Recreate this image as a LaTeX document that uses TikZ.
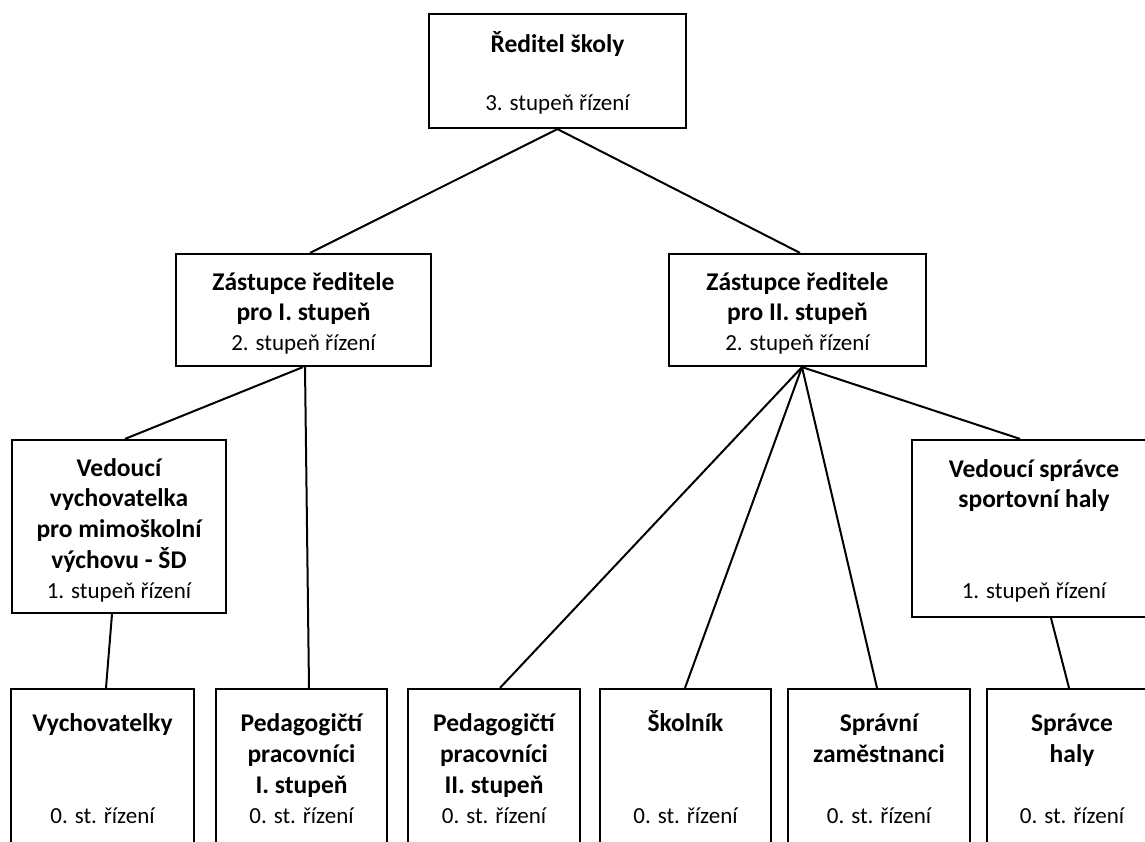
\documentclass[tikz,border=0pt]{standalone}
\usepackage{fontspec}
\setmainfont{Carlito}
\begin{document}
\begin{tikzpicture}[x=1pt,y=-1pt,
  box/.style={draw=black,line width=2.2pt,rectangle,inner sep=0pt,fill=white},
  conn/.style={draw=black,line width=2pt},
  tb/.style={font=\fontsize{25.5}{30}\selectfont\bfseries,inner sep=0pt,text height=17pt,text depth=0pt,anchor=center},
  tn/.style={font=\fontsize{23}{28}\selectfont,inner sep=0pt,text height=16pt,text depth=0pt,anchor=center}]
\useasboundingbox (0,0) rectangle (1145,842);
\clip (0,0) rectangle (1145,842);
% boxes
\node[box,minimum width=257pt,minimum height=114pt] (top) at (557.5,71) {};
\node[box,minimum width=255pt,minimum height=112pt] (zl) at (303.5,310) {};
\node[box,minimum width=257pt,minimum height=112pt] (zr) at (797.5,310) {};
\node[box,minimum width=214pt,minimum height=173pt] (ved) at (119,526.5) {};
\node[box,minimum width=240pt,minimum height=177pt] (vsh) at (1032,528.5) {};
\node[box,minimum width=183pt,minimum height=190pt] (vych) at (102.5,784) {};
\node[box,minimum width=171pt,minimum height=190pt] (ped1) at (301.5,784) {};
\node[box,minimum width=172pt,minimum height=190pt] (ped2) at (494,784) {};
\node[box,minimum width=171pt,minimum height=190pt] (skol) at (685.5,784) {};
\node[box,minimum width=182pt,minimum height=190pt] (sprz) at (879,784) {};
\node[box,minimum width=170pt,minimum height=190pt] (sprh) at (1072,784) {};
% connectors
\draw[conn] (top.south) -- ([xshift=6.5pt]zl.north);
\draw[conn] (top.south) -- ([xshift=2.5pt]zr.north);
\draw[conn] ([xshift=-0.5pt]zl.south) -- ([xshift=6pt]ved.north);
\draw[conn] ([xshift=1.5pt]zl.south) -- ([xshift=7.5pt]ped1.north);
\draw[conn] ([xshift=4.5pt]zr.south) -- ([xshift=6pt]ped2.north);
\draw[conn] ([xshift=4.5pt]zr.south) -- ([xshift=-0.5pt]skol.north);
\draw[conn] ([xshift=4.5pt]zr.south) -- ([xshift=-2pt]sprz.north);
\draw[conn] ([xshift=4.5pt]zr.south) -- ([xshift=-12pt]vsh.north);
\draw[conn] ([xshift=-7pt]ved.south) -- ([xshift=3.5pt]vych.north);
\draw[conn] ([xshift=19pt]vsh.south) -- ([xshift=-3pt]sprh.north);
% texts
\node[tb] (t1) at (557.5,44) {Ředitel školy};
\node[tn] (t2) at (557.5,103) {3. stupeň řízení};
\node[tb] (zl1) at (303.5,282) {Zástupce ředitele};
\node[tb] (zl2) at (303.5,312) {pro I. stupeň};
\node[tn] (zl3) at (303.5,342) {2. stupeň řízení};
\node[tb] (zr1) at (797.5,282) {Zástupce ředitele};
\node[tb] (zr2) at (797.5,312) {pro II. stupeň};
\node[tn] (zr3) at (797.5,342) {2. stupeň řízení};
\node[tb] (v1) at (119,468) {Vedoucí};
\node[tb] (v2) at (119,498) {vychovatelka};
\node[tb] (v3) at (119,529) {pro mimoškolní};
\node[tb] (v4) at (119,560) {výchovu - ŠD};
\node[tn] (v5) at (119,590) {1. stupeň řízení};
\node[tb] (s1) at (1034,469) {Vedoucí správce};
\node[tb] (s2) at (1034,499) {sportovní haly};
\node[tn] (s3) at (1034,590) {1. stupeň řízení};
\node[tb] (b1) at (102.5,723) {Vychovatelky};
\node[tn] (b1n) at (102.5,815) {0. st. řízení};
\node[tb] (p1a) at (301.5,723) {Pedagogičtí};
\node[tb] (p1b) at (301.5,754) {pracovníci};
\node[tb] (p1c) at (301.5,785) {I. stupeň};
\node[tn] (p1n) at (301.5,815) {0. st. řízení};
\node[tb] (p2a) at (494,723) {Pedagogičtí};
\node[tb] (p2b) at (494,754) {pracovníci};
\node[tb] (p2c) at (494,785) {II. stupeň};
\node[tn] (p2n) at (494,815) {0. st. řízení};
\node[tb] (k1) at (685.5,723) {Školník};
\node[tn] (k1n) at (685.5,815) {0. st. řízení};
\node[tb] (z1) at (879,723) {Správní};
\node[tb] (z2) at (879,754) {zaměstnanci};
\node[tn] (z1n) at (879,815) {0. st. řízení};
\node[tb] (h1) at (1072,723) {Správce};
\node[tb] (h2) at (1072,754) {haly};
\node[tn] (h1n) at (1072,815) {0. st. řízení};
\end{tikzpicture}
\end{document}
